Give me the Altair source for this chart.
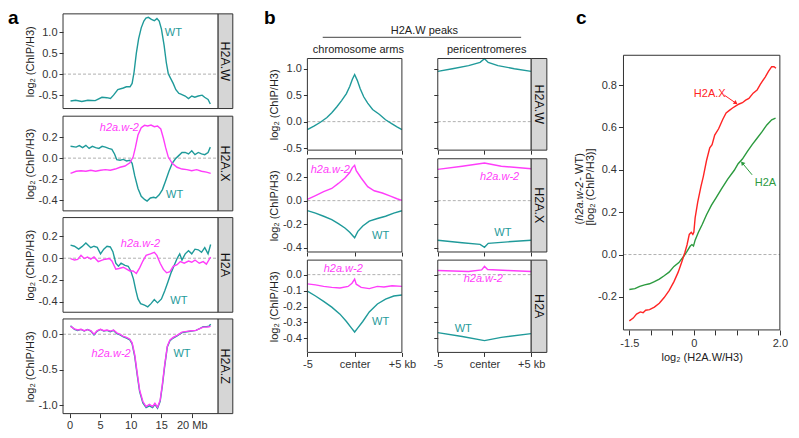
import altair as alt
import pandas as pd

FONT = "Liberation Sans"
TEAL = "#1f9a9a"
MAG = "#ff3dfa"
RED = "#ff2424"
GREEN = "#2b9a3e"
FRAME = "#333333"
STRIP = "#d6d6d6"
ZERO = "#b0b0b0"

# ---------------- panel a data (Mb, log2 ChIP/H3) ----------------
A_W_WT_X = [0.16, 1.0, 2.0, 3.0, 4.2, 5.3, 6.1, 6.7, 7.2, 7.9, 8.8, 9.3, 9.9, 10.24, 10.56, 10.93, 11.3, 11.73, 12.16, 12.5,
            12.9, 13.4, 13.87, 14.3, 14.67, 15.04, 15.47, 15.84, 16.16, 16.5, 16.96, 17.4, 17.9, 18.13, 18.93, 19.47, 20.0,
            20.5, 21.07, 21.7, 22.1, 22.67, 23.04]
A_W_WT_Y = [-0.64, -0.62, -0.65, -0.62, -0.63, -0.55, -0.56, -0.58, -0.50, -0.37, -0.33, -0.30, -0.30, -0.22, 0.05, 0.50,
            0.84, 1.10, 1.26, 1.33, 1.35, 1.30, 1.27, 1.32, 1.26, 1.07, 0.69, 0.27, 0.01, -0.09, -0.22, -0.37, -0.46, -0.47,
            -0.52, -0.58, -0.52, -0.55, -0.52, -0.50, -0.55, -0.60, -0.71]

A_X_WT_X = [0.16, 1.07, 1.6, 2.13, 2.67, 3.2, 3.73, 4.27, 4.8, 5.33, 5.87, 6.4, 6.93, 7.36, 7.73, 8.27, 8.8, 9.33, 9.87,
            10.24, 10.67, 11.2, 11.73, 12.27, 12.69, 13.23, 13.76, 14.13, 14.67, 15.2, 15.73, 16.27, 16.8, 17.33, 17.87,
            18.4, 18.93, 19.47, 20.0, 20.53, 21.07, 21.6, 22.13, 22.67, 23.04]
A_X_WT_Y = [0.113, 0.105, 0.12, 0.10, 0.122, 0.093, 0.113, 0.10, 0.093, 0.113, 0.105, 0.093, 0.084, 0.04, -0.015, -0.02,
            -0.012, -0.027, -0.02, -0.05, -0.17, -0.29, -0.364, -0.394, -0.41, -0.38, -0.373, -0.38, -0.35, -0.30, -0.215,
            -0.125, -0.05, -0.006, 0.024, 0.054, 0.054, 0.04, 0.07, 0.033, 0.054, 0.04, 0.033, 0.054, 0.105]
A_X_MU_X = [0.16, 1.07, 1.87, 2.67, 3.47, 4.27, 5.07, 5.87, 6.67, 7.47, 8.27, 9.07, 9.87, 10.4, 10.77, 11.2, 11.73, 12.27,
            12.8, 13.33, 13.87, 14.4, 14.93, 15.36, 15.73, 16.16, 16.8, 17.6, 18.4, 19.2, 20.0, 20.8, 21.6, 22.4, 23.1]
A_X_MU_Y = [-0.146, -0.125, -0.12, -0.125, -0.116, -0.125, -0.116, -0.11, -0.116, -0.104, -0.087, -0.075, -0.045, 0.01,
            0.10, 0.22, 0.29, 0.313, 0.307, 0.316, 0.30, 0.307, 0.278, 0.19, 0.10, 0.01, -0.05, -0.087, -0.104, -0.11,
            -0.12, -0.11, -0.125, -0.134, -0.146]

A_H_WT_X = [0.16, 0.8, 1.49, 2.03, 2.67, 3.09, 3.47, 4.0, 4.53, 5.07, 5.6, 6.13, 6.67, 7.09, 7.57, 8.0, 8.43, 9.07, 9.6,
            10.03, 10.45, 10.83, 11.2, 11.63, 12.27, 12.8, 13.33, 13.87, 14.4, 15.04, 15.57, 16.11, 16.64, 17.17, 17.6,
            18.03, 18.4, 18.93, 19.47, 20.0, 20.53, 21.07, 21.6, 22.13, 22.67, 23.09]
A_H_WT_Y = [0.12, 0.11, 0.083, 0.106, 0.14, 0.117, 0.097, 0.11, 0.10, 0.04, 0.083, 0.11, 0.103, 0.06, -0.046, -0.074,
            -0.046, -0.066, -0.074, -0.117, -0.19, -0.29, -0.374, -0.417, -0.431, -0.446, -0.417, -0.38, -0.41, -0.374,
            -0.30, -0.217, -0.13, -0.06, -0.003, 0.04, -0.017, 0.04, 0.069, 0.04, 0.083, 0.077, 0.054, 0.097, 0.04, 0.126]
A_H_MU_X = [0.16, 0.8, 1.33, 1.87, 2.4, 2.93, 3.47, 4.0, 4.69, 5.33, 5.87, 6.51, 6.93, 7.57, 8.11, 8.8, 9.33, 9.87, 10.4,
            10.93, 11.47, 12.0, 12.53, 13.23, 13.87, 14.29, 14.83, 15.36, 15.89, 16.43, 16.96, 17.6, 18.13, 18.77, 19.47,
            20.0, 20.53, 21.23, 21.87, 22.4, 23.09]
A_H_MU_Y = [-0.003, -0.017, -0.011, 0.026, -0.003, 0.011, -0.009, 0.011, -0.031, -0.017, -0.009, -0.003, -0.026, -0.10,
            -0.094, -0.083, -0.10, -0.117, -0.117, -0.14, -0.089, -0.026, 0.026, 0.04, 0.054, 0.026, -0.046, -0.103,
            -0.134, -0.123, -0.074, -0.06, -0.031, -0.046, -0.026, -0.037, -0.017, -0.046, -0.031, -0.054, 0.011]

A_Z_X = [0.16, 0.8, 1.33, 1.87, 2.4, 2.93, 3.47, 4.0, 4.53, 5.07, 5.6, 6.13, 6.67, 7.2, 7.73, 8.27, 8.8, 9.33, 9.87, 10.24,
         10.67, 11.09, 11.47, 12.0, 12.53, 13.07, 13.6, 13.97, 14.4, 14.83, 15.2, 15.57, 16.0, 16.43, 16.96, 17.6, 18.4,
         19.2, 20.0, 20.69, 21.33, 21.87, 22.4, 22.83, 23.09]
A_Z_WT_Y = [0.12, 0.068, 0.054, 0.068, 0.045, 0.068, 0.045, -0.009, 0.045, 0.068, 0.045, 0.054, 0.036, 0.054, 0.009,
            -0.009, -0.036, -0.054, -0.081, -0.135, -0.315, -0.586, -0.81, -0.968, -1.036, -1.01, -1.036, -0.99, -1.045,
            -0.946, -0.72, -0.45, -0.18, -0.09, -0.054, -0.023, 0.023, 0.036, 0.045, 0.054, 0.081, 0.108, 0.108, 0.113,
            0.144]
A_Z_MU_Y = [0.11, 0.075, 0.06, 0.07, 0.05, 0.065, 0.05, 0.0, 0.05, 0.07, 0.05, 0.06, 0.045, 0.06, 0.02, 0.0, -0.03,
            -0.045, -0.07, -0.12, -0.29, -0.56, -0.79, -0.95, -1.02, -0.99, -1.02, -0.975, -1.03, -0.93, -0.70, -0.43,
            -0.17, -0.08, -0.045, -0.015, 0.03, 0.04, 0.05, 0.055, 0.08, 0.10, 0.10, 0.105, 0.115]

# ---------------- panel b data (kb from peak centre) ----------------
B_W_ARM_X = [-5, -4.31, -3.62, -2.93, -2.42, -1.90, -1.38, -0.87, -0.52, -0.24, 0, 0.28, 0.59, 0.96, 1.38, 1.9, 2.6, 3.27,
             3.96, 4.48, 5]
B_W_ARM_Y = [-0.15, -0.084, -0.012, 0.078, 0.169, 0.277, 0.398, 0.53, 0.663, 0.80, 0.89, 0.78, 0.62, 0.47, 0.35, 0.23,
             0.14, 0.036, -0.042, -0.10, -0.15]
B_W_PER_X = [-5, -3.43, -1.7, -0.47, 0, 0.4, 1.44, 3.19, 5]
B_W_PER_Y = [0.95, 1.0, 1.06, 1.12, 1.19, 1.12, 1.06, 1.0, 0.95]

B_X_ARM_MU_X = [-5, -4.14, -3.28, -2.42, -1.72, -1.03, -0.52, -0.24, 0, 0.17, 0.69, 1.38, 2.07, 2.93, 3.79, 4.48, 5]
B_X_ARM_MU_Y = [0.011, 0.043, 0.076, 0.103, 0.146, 0.192, 0.238, 0.28, 0.30, 0.254, 0.192, 0.119, 0.084, 0.065, 0.038,
                0.016, 0.003]
B_X_ARM_WT_X = [-5, -4.14, -3.28, -2.42, -1.72, -1.03, -0.52, -0.17, 0, 0.34, 0.86, 1.55, 2.41, 3.27, 4.14, 5]
B_X_ARM_WT_Y = [-0.084, -0.105, -0.132, -0.16, -0.195, -0.232, -0.268, -0.30, -0.315, -0.26, -0.214, -0.173, -0.151,
                -0.132, -0.105, -0.086]
B_X_PER_MU_X = [-5, -2.39, 0, 1.8, 5]
B_X_PER_MU_Y = [0.265, 0.292, 0.319, 0.292, 0.27]
B_X_PER_WT_X = [-5, -2.39, -0.47, 0, 0.4, 2.49, 5]
B_X_PER_WT_Y = [-0.335, -0.357, -0.37, -0.395, -0.362, -0.349, -0.335]

B_H_ARM_MU_X = [-5, -4.14, -3.28, -2.42, -1.55, -0.69, -0.28, 0, 0.17, 0.69, 1.55, 2.41, 3.1, 3.96, 5]
B_H_ARM_MU_Y = [-0.058, -0.064, -0.074, -0.08, -0.084, -0.074, -0.054, -0.028, -0.06, -0.08, -0.088, -0.074, -0.078,
                -0.07, -0.074]
B_H_ARM_WT_X = [-5, -4.14, -3.28, -2.42, -1.55, -0.87, -0.35, 0, 0.34, 0.86, 1.55, 2.41, 3.27, 4.14, 5]
B_H_ARM_WT_Y = [-0.104, -0.134, -0.168, -0.204, -0.248, -0.294, -0.334, -0.36, -0.334, -0.294, -0.234, -0.184, -0.154,
                -0.134, -0.128]
B_H_PER_MU_X = [-5, -1.7, -0.3, 0, 0.33, 2.49, 5]
B_H_PER_MU_Y = [0.026, 0.02, 0.03, 0.052, 0.032, 0.026, 0.02]
B_H_PER_WT_X = [-5, -2.39, 0, 1.8, 5]
B_H_PER_WT_Y = [-0.364, -0.388, -0.414, -0.394, -0.37]

# ---------------- panel c data ----------------
C_HX_X = [-1.5, -1.409, -1.333, -1.242, -1.18, -1.12, -1.03, -0.917, -0.803, -0.69, -0.576, -0.462, -0.364, -0.273,
          -0.212, -0.159, -0.106, -0.06, -0.023, 0.0, 0.03, 0.09, 0.167, 0.22, 0.295, 0.37, 0.424, 0.485, 0.576, 0.674,
          0.75, 0.826, 0.9, 0.977, 1.053, 1.129, 1.205, 1.28, 1.379, 1.47, 1.545, 1.659, 1.735, 1.81, 1.864, 1.91]
C_HX_Y = [-0.313, -0.30, -0.281, -0.271, -0.275, -0.263, -0.26, -0.248, -0.23, -0.203, -0.17, -0.128, -0.083, -0.03,
          0.0075, 0.045, 0.095, 0.105, 0.095, 0.105, 0.173, 0.248, 0.323, 0.368, 0.444, 0.504, 0.519, 0.564, 0.594,
          0.639, 0.669, 0.681, 0.692, 0.702, 0.711, 0.717, 0.729, 0.737, 0.762, 0.777, 0.804, 0.838, 0.865, 0.887,
          0.887, 0.88]
C_H2A_X = [-1.5, -1.37, -1.258, -1.144, -1.03, -0.917, -0.803, -0.69, -0.576, -0.462, -0.348, -0.235, -0.159, -0.083,
           -0.045, -0.008, 0.03, 0.106, 0.197, 0.295, 0.41, 0.523, 0.636, 0.788, 0.94, 1.03, 1.129, 1.242, 1.356, 1.47,
           1.583, 1.697, 1.81, 1.9]
C_H2A_Y = [-0.165, -0.161, -0.15, -0.143, -0.138, -0.128, -0.116, -0.10, -0.083, -0.056, -0.038, -0.008, 0.015, 0.04,
           0.047, 0.04, 0.068, 0.105, 0.143, 0.188, 0.233, 0.27, 0.308, 0.356, 0.398, 0.429, 0.451, 0.486, 0.519, 0.549,
           0.579, 0.612, 0.636, 0.644]

# ---------------- layout helpers (reference pixel -> chart pixel) ----------------
W, H = 781, 418
SX = 779 / 797
SY = 416 / 435


def X(p):
    return round((p - 2) * SX, 2)


def Y(p):
    return round((p - 2) * SY, 2)


YTITLE = "log\u2082 (ChIP/H3)"
MINUS_FIX = "replace(datum.label, '\u2212', '-')"
LW = 1.4


def yaxis(L, values, labels=True, title=YTITLE, tick=4):
    kw = dict(orient="left", offset=-X(L), values=values, format=".1f", labelExpr=MINUS_FIX,
              labels=labels, title=title if labels else "", tickSize=tick, tickColor=FRAME, tickWidth=1,
              domain=False, grid=False, labelFontSize=11, labelColor="#333333", labelPadding=2,
              titleFontSize=11, titleColor="#222222", titleFontWeight="normal", titlePadding=3,
              labelFont=FONT, titleFont=FONT)
    return alt.Axis(**kw)


def xaxis(B, values, labels=True, expr=None, title="", tick=4):
    kw = dict(orient="bottom", offset=Y(B) - H, values=values, labels=labels, title=title, tickSize=tick,
              tickColor=FRAME, tickWidth=1, domain=False, grid=False, labelFlush=False, labelOverlap=False,
              labelFontSize=11, labelColor="#333333", labelPadding=2, titleFontSize=11, titleColor="#222222",
              titleFontWeight="normal", titlePadding=3, labelFont=FONT, titleFont=FONT)
    if expr:
        kw["labelExpr"] = expr
    return alt.Axis(**kw)


def panel(box, xdom, ydom, series, labels, yax, xax=None, arrows=()):
    L, T, R, B = box
    sx = alt.Scale(domain=xdom, range=[X(L), X(R)], nice=False, zero=False)
    sy = alt.Scale(domain=ydom, range=[Y(B), Y(T)], nice=False, zero=False)
    layers = []
    # first layer carries the axes (explicit settings of the first layer win when layers merge)
    zdf = pd.DataFrame({"x0": [xdom[0]], "x1": [xdom[1]], "z": [0.0]})
    layers.append(alt.Chart(zdf).mark_rule(stroke=ZERO, strokeDash=[3, 2], strokeWidth=1).encode(
        x=alt.X("x0:Q", scale=sx, axis=xax if xax is not None else None), x2="x1:Q",
        y=alt.Y("z:Q", scale=sy, axis=yax)))
    for xs, ys, col in series:
        df = pd.DataFrame({"x": xs, "y": ys})
        layers.append(alt.Chart(df).mark_line(color=col, strokeWidth=LW).encode(
            x=alt.X("x:Q", scale=sx), y=alt.Y("y:Q", scale=sy)))
    for (x0, y0, x1, y1, col, ang) in arrows:
        adf = pd.DataFrame({"x": [x0], "y": [y0], "x2": [x1], "y2": [y1]})
        layers.append(alt.Chart(adf).mark_rule(color=col, strokeWidth=1).encode(
            x=alt.X("x:Q", scale=sx), y=alt.Y("y:Q", scale=sy), x2="x2:Q", y2="y2:Q"))
        layers.append(alt.Chart(adf).mark_point(shape="triangle-up", filled=True, color=col, size=22, angle=ang,
                                                opacity=1).encode(
            x=alt.X("x2:Q", scale=sx), y=alt.Y("y2:Q", scale=sy)))
    for (tx, ty, txt, col, italic) in labels:
        tdf = pd.DataFrame({"x": [tx], "y": [ty], "t": [txt]})
        layers.append(alt.Chart(tdf).mark_text(color=col, fontSize=11, font=FONT,
                                               fontStyle="italic" if italic else "normal").encode(
            x=alt.X("x:Q", scale=sx), y=alt.Y("y:Q", scale=sy), text="t:N"))
    fdf = pd.DataFrame({"x0": [xdom[0]], "x1": [xdom[1]], "y0": [ydom[0]], "y1": [ydom[1]]})
    layers.append(alt.Chart(fdf).mark_rect(fillOpacity=0, stroke=FRAME, strokeWidth=1).encode(
        x=alt.X("x0:Q", scale=sx), x2="x1:Q", y=alt.Y("y0:Q", scale=sy), y2="y1:Q"))
    return alt.layer(*layers)


def strip(L, T, R, B, label):
    sx = alt.Scale(domain=[0, 1], range=[X(L), X(R)], nice=False)
    sy = alt.Scale(domain=[0, 1], range=[Y(B), Y(T)], nice=False)
    df = pd.DataFrame({"x0": [0], "x1": [1], "y0": [0], "y1": [1], "xm": [0.5], "ym": [0.5], "t": [label]})
    rect = alt.Chart(df).mark_rect(fill=STRIP, stroke=FRAME, strokeWidth=1).encode(
        x=alt.X("x0:Q", scale=sx, axis=None), x2="x1:Q", y=alt.Y("y0:Q", scale=sy, axis=None), y2="y1:Q")
    txt = alt.Chart(df).mark_text(angle=90, fontSize=12.5, font=FONT, color="#111111").encode(
        x=alt.X("xm:Q", scale=sx, axis=None), y=alt.Y("ym:Q", scale=sy, axis=None), text="t:N")
    return alt.layer(rect, txt)


def note(text, px, py, size=11, weight="normal", style="normal", color="#222222", angle=0, align="center",
         baseline="middle"):
    df = pd.DataFrame({"t": [text]})
    return alt.Chart(df).mark_text(fontSize=size, fontWeight=weight, fontStyle=style, color=color, angle=angle,
                                   align=align, baseline=baseline, font=FONT).encode(
        x=alt.value(X(px)), y=alt.value(Y(py)), text="t:N")


layers = []

# ---------------- panel a ----------------
A_L, A_R, A_S = 58.3, 217, 232
A_ROWS = [(5, 104), (112, 211), (218, 317), (324, 423)]
A_XDOM = [-1.07, 24.32]
A_YDOMS = [(-0.818, 1.432), (-0.503, 0.40), (-0.496, 0.373), (-1.12, 0.216)]
A_YTICKS = [[-0.5, 0.0, 0.5, 1.0], [-0.4, -0.2, 0.0, 0.2], [-0.4, -0.2, 0.0, 0.2], [-1.0, -0.5, 0.0]]
A_SERIES = [
    [(A_W_WT_X, A_W_WT_Y, TEAL)],
    [(A_X_WT_X, A_X_WT_Y, TEAL), (A_X_MU_X, A_X_MU_Y, MAG)],
    [(A_H_WT_X, A_H_WT_Y, TEAL), (A_H_MU_X, A_H_MU_Y, MAG)],
    [(A_Z_X, A_Z_WT_Y, TEAL), (A_Z_X, A_Z_MU_Y, MAG)],
]
A_LABELS = [
    [(17.0, 0.97, "WT", TEAL, False)],
    [(8.16, 0.29, "h2a.w-2", MAG, True), (17.2, -0.35, "WT", TEAL, False)],
    [(11.6, 0.128, "h2a.w-2", MAG, True), (17.9, -0.39, "WT", TEAL, False)],
    [(6.8, -0.28, "h2a.w-2", MAG, True), (18.4, -0.28, "WT", TEAL, False)],
]
A_STRIPS = ["H2A.W", "H2A.X", "H2A", "H2A.Z"]
NB = "\u00a0"
for i, (T, B) in enumerate(A_ROWS):
    xax = None
    if i == 3:
        xax = xaxis(B, [0, 5, 10, 15, 20], expr="datum.value == 20 ? '" + NB * 6 + "20 Mb' : datum.label")
    layers.append(panel((A_L, T, A_R, B), A_XDOM, A_YDOMS[i], A_SERIES[i], A_LABELS[i],
                        yaxis(A_L, A_YTICKS[i]), xax))
    layers.append(strip(A_R, T, A_S, B, A_STRIPS[i]))

# ---------------- panel b ----------------
B_LL, B_LR, B_RL, B_RR, B_S = 308.3, 405, 441.7, 537.3, 553.3
B_ROWS = [(51.7, 147.5), (156.5, 254), (262.5, 359)]
B_XDOM = [-5, 5]
B_YDOMS = [(-0.539, 1.193), (-0.435, 0.355), (-0.488, 0.091)]
B_YTICKS = [[-0.5, 0.0, 0.5, 1.0], [-0.4, -0.2, 0.0, 0.2], [-0.4, -0.3, -0.2, -0.1, 0.0]]
B_LEFT = [
    [(B_W_ARM_X, B_W_ARM_Y, TEAL)],
    [(B_X_ARM_WT_X, B_X_ARM_WT_Y, TEAL), (B_X_ARM_MU_X, B_X_ARM_MU_Y, MAG)],
    [(B_H_ARM_WT_X, B_H_ARM_WT_Y, TEAL), (B_H_ARM_MU_X, B_H_ARM_MU_Y, MAG)],
]
B_RIGHT = [
    [(B_W_PER_X, B_W_PER_Y, TEAL)],
    [(B_X_PER_WT_X, B_X_PER_WT_Y, TEAL), (B_X_PER_MU_X, B_X_PER_MU_Y, MAG)],
    [(B_H_PER_WT_X, B_H_PER_WT_Y, TEAL), (B_H_PER_MU_X, B_H_PER_MU_Y, MAG)],
]
B_LLAB = [
    [],
    [(-2.58, 0.26, "h2a.w-2", MAG, True), (2.75, -0.30, "WT", TEAL, False)],
    [(-1.21, 0.038, "h2a.w-2", MAG, True), (2.75, -0.30, "WT", TEAL, False)],
]
B_RLAB = [
    [],
    [(1.62, 0.197, "h2a.w-2", MAG, True), (1.97, -0.274, "WT", TEAL, False)],
    [(-0.13, -0.029, "h2a.w-2", MAG, True), (-2.28, -0.343, "WT", TEAL, False)],
]
B_STRIPS = ["H2A.W", "H2A.X", "H2A"]
B_XEXPR = "datum.value == 0 ? 'center' : (datum.value < 0 ? '-5' : '+5 kb')"
for i, (T, B) in enumerate(B_ROWS):
    last = i == 2
    layers.append(panel((B_LL, T, B_LR, B), B_XDOM, B_YDOMS[i], B_LEFT[i], B_LLAB[i],
                        yaxis(B_LL, B_YTICKS[i]),
                        xaxis(B, [-5, 0, 5], labels=last, expr=B_XEXPR if last else None)))
    layers.append(panel((B_RL, T, B_RR, B), B_XDOM, B_YDOMS[i], B_RIGHT[i], B_RLAB[i],
                        yaxis(B_RL, B_YTICKS[i], labels=False),
                        xaxis(B, [-5, 0, 5], labels=last, expr=B_XEXPR if last else None)))
    layers.append(strip(B_RR, T, B_S, B, B_STRIPS[i]))

# ---------------- panel c ----------------
C_BOX = (631.7, 48.3, 791.7, 335.5)
C_XDOM = [-1.636, 2.0]
C_YDOM = [-0.356, 0.941]
C_XEXPR = "datum.value == -1.5 ? '-1.5' : (datum.value == 0 ? '0' : (datum.value == 2 ? '2.0' : ''))"
cyax = alt.Axis(orient="left", offset=-X(C_BOX[0]), values=[-0.2, 0.0, 0.2, 0.4, 0.6, 0.8], format=".1f",
                labelExpr=MINUS_FIX, title="", tickSize=5, tickColor=FRAME, domain=False, grid=False,
                labelFontSize=11, labelColor="#333333", labelPadding=2, labelFont=FONT)
cxax = alt.Axis(orient="bottom", offset=Y(C_BOX[3]) - H, values=[-1.5, -1.0, -0.5, 0.0, 0.5, 1.0, 1.5, 2.0],
                labelExpr=C_XEXPR, title="log\u2082 (H2A.W/H3)", tickSize=5, tickColor=FRAME, domain=False,
                grid=False, labelFlush=False, labelOverlap=False, labelFontSize=11, labelColor="#333333",
                labelPadding=3, titleFontSize=11, titleColor="#222222", titleFontWeight="normal", titlePadding=3,
                labelFont=FONT, titleFont=FONT)
layers.append(panel(C_BOX, C_XDOM, C_YDOM,
                    [(C_H2A_X, C_H2A_Y, GREEN), (C_HX_X, C_HX_Y, RED)],
                    [(0.37, 0.76, "H2A.X", RED, False), (1.666, 0.339, "H2A", GREEN, False)],
                    cyax, cxax,
                    arrows=[(0.711, 0.7526, 0.977, 0.7151, RED, 125), (1.355, 0.3765, 1.127, 0.4321, GREEN, 320)]))

# panel c y title (two lines, partly italic)
yc = 186
y0 = Y(yc) + 37.5
layers.append(alt.Chart(pd.DataFrame({"t": ["("]})).mark_text(
    fontSize=11, font=FONT, angle=270, align="left", baseline="middle", color="#222222").encode(
    x=alt.value(X(587)), y=alt.value(y0), text="t:N"))
layers.append(alt.Chart(pd.DataFrame({"t": ["h2a.w-2"]})).mark_text(
    fontSize=11, font=FONT, angle=270, align="left", baseline="middle", fontStyle="italic", color="#222222").encode(
    x=alt.value(X(587)), y=alt.value(y0 - 3.8), text="t:N"))
layers.append(alt.Chart(pd.DataFrame({"t": ["\u00a0-\u00a0WT)"]})).mark_text(
    fontSize=11, font=FONT, angle=270, align="left", baseline="middle", color="#222222").encode(
    x=alt.value(X(587)), y=alt.value(y0 - 3.8 - 40.0), text="t:N"))
layers.append(note("[log\u2082 (ChIP/H3)]", 598, yc, angle=270))

# panel letters & headers
layers.append(note("a", 2, 15.5, size=19, weight="bold", align="left", baseline="alphabetic", color="#000000"))
layers.append(note("b", 264, 15.5, size=19, weight="bold", align="left", baseline="alphabetic", color="#000000"))
layers.append(note("c", 583, 15.5, size=19, weight="bold", align="left", baseline="alphabetic", color="#000000"))
layers.append(note("H2A.W peaks", 428, 22.7))
layers.append(alt.Chart(pd.DataFrame({"v": [0]})).mark_rule(color="#444444", strokeWidth=1).encode(
    x=alt.value(X(324)), x2=alt.value(X(527)), y=alt.value(Y(29.5))))
layers.append(note("chromosome arms", 360.5, 43))
layers.append(note("pericentromeres", 491.7, 43))

chart = alt.layer(*layers).resolve_scale(x="independent", y="independent").resolve_axis(
    x="independent", y="independent").properties(width=W, height=H, padding=0, background="white").configure_view(
    stroke=None)

chart.save("out.html", embed_options={"renderer": "svg", "actions": False})
